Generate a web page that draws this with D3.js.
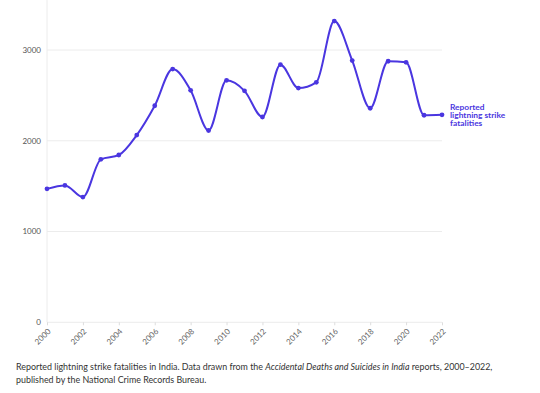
<!DOCTYPE html>
<html>
<head>
<meta charset="utf-8">
<script src="https://cdn.jsdelivr.net/npm/d3@7"></script>
<style>
  body { margin: 0; background: #fff; }
  .caption { position: absolute; left: 16px; top: 361px; width: 500px; font-family: Lato, sans-serif; font-size: 8.9px; line-height: 12.5px; color: #333; }
</style>
</head>
<body>
<div id="chart"></div>
<div class="caption">Reported lightning strike fatalities in India. Data drawn from the <i>Accidental Deaths and Suicides in India</i> reports, 2000–2022, published by the National Crime Records Bureau.</div>
<script>
var years = [2000, 2001, 2002, 2003, 2004, 2005, 2006, 2007, 2008, 2009, 2010, 2011,
             2012, 2013, 2014, 2015, 2016, 2017, 2018, 2019, 2020, 2021, 2022];
var deaths = [1470, 1508, 1380, 1796, 1843, 2063, 2386, 2790, 2556, 2113, 2666, 2550,
              2262, 2838, 2581, 2644, 3319, 2884, 2358, 2876, 2864, 2281, 2286];
var yTicks = [0, 1000, 2000, 3000];
var xTicks = [2000, 2002, 2004, 2006, 2008, 2010, 2012, 2014, 2016, 2018, 2020, 2022];
var seriesLabel = ["Reported", "lightning strike", "fatalities"];

var width = 540, height = 393;
var purple = "#4a36e0";

var svg = d3.select("#chart")
  .append("svg")
  .attr("width", width)
  .attr("height", height);

var x = d3.scaleLinear().domain([2000, 2022]).range([47, 442]);
var y = d3.scaleLinear().domain([0, 3000]).range([322.3, 50]);

// gridlines
svg.selectAll(".grid")
  .data(yTicks)
  .enter()
  .append("line")
  .attr("x1", x(2000))
  .attr("x2", x(2022))
  .attr("y1", function(d) { return y(d); })
  .attr("y2", function(d) { return y(d); })
  .style("stroke", "#ececec")
  .style("stroke-width", 1);

// vertical axis line
svg.append("line")
  .attr("x1", x(2000)).attr("x2", x(2000))
  .attr("y1", y(3550)).attr("y2", y(0))
  .style("stroke", "#ececec");

// y labels
svg.selectAll(".ylab")
  .data(yTicks)
  .enter()
  .append("text")
  .attr("x", 41)
  .attr("y", function(d) { return y(d); })
  .attr("dy", "0.35em")
  .attr("text-anchor", "end")
  .attr("font-family", "Lato, sans-serif")
  .attr("font-size", "8px")
  .attr("fill", "#555")
  .text(function(d) { return d; });

// x axis
var xAxis = svg.append("g")
  .attr("transform", "translate(0," + y(0) + ")")
  .call(d3.axisBottom(x).tickValues(xTicks).tickFormat(d3.format("d")).tickSize(3));
xAxis.select(".domain").remove();
xAxis.selectAll("line").style("stroke", "#ddd");
xAxis.selectAll("text")
  .attr("x", 0)
  .attr("y", 0)
  .attr("dy", "0.3em")
  .attr("font-family", "Lato, sans-serif")
  .attr("font-size", "8px")
  .attr("fill", "#666")
  .attr("text-anchor", "end")
  .attr("transform", "translate(2,8) rotate(-45)");

// line
var line = d3.line()
  .x(function(d, i) { return x(years[i]); })
  .y(function(d) { return y(d); })
  .curve(d3.curveMonotoneX);

svg.append("path")
  .datum(deaths)
  .attr("d", line)
  .attr("fill", "none")
  .style("stroke", purple)
  .style("stroke-width", 2);

svg.selectAll(".dot")
  .data(deaths)
  .enter()
  .append("circle")
  .attr("cx", function(d, i) { return x(years[i]); })
  .attr("cy", function(d) { return y(d); })
  .attr("r", 2.4)
  .style("fill", purple);

// series label
var lab = svg.append("text")
  .attr("font-family", "Lato, sans-serif")
  .attr("font-size", "8.4px")
  .attr("font-weight", "bold")
  .attr("fill", purple);
seriesLabel.forEach(function(t, i) {
  lab.append("tspan")
    .attr("x", 450)
    .attr("y", 110 + i * 8)
    .text(t);
});
</script>
</body>
</html>
